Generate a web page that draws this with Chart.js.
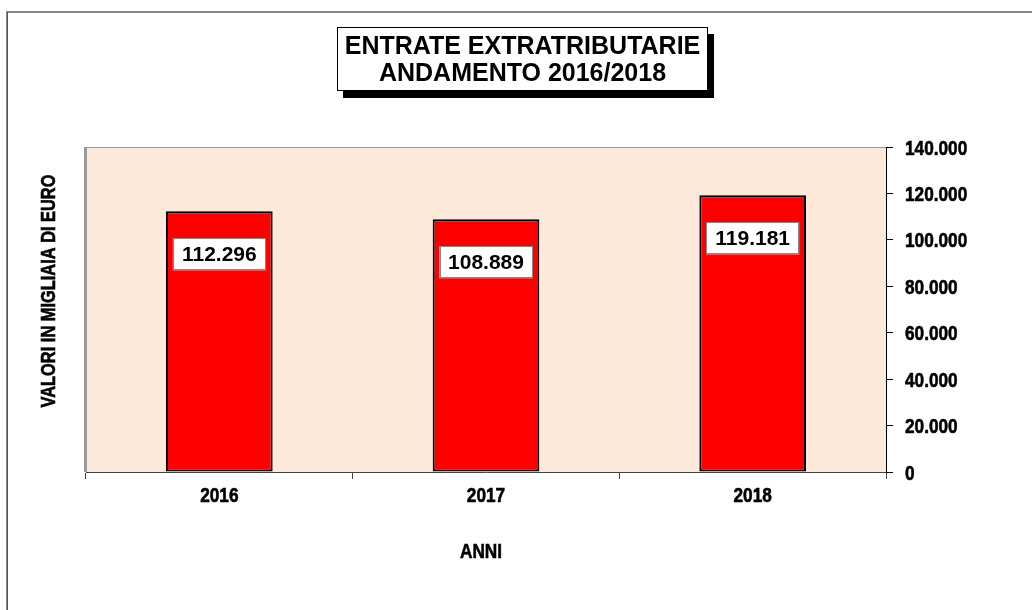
<!DOCTYPE html>
<html>
<head>
<meta charset="utf-8">
<title>Entrate extratributarie</title>
<script src="https://cdn.jsdelivr.net/npm/chart.js@4.4.1/dist/chart.umd.min.js"></script>
<style>
  html, body { margin: 0; padding: 0; background: #fff; }
  canvas { display: block; }
</style>
</head>
<body>
<canvas id="chart" width="1032" height="610"></canvas>
<script>
// ========= dati =========
const anni = ['2016', '2017', '2018'];
const entrate = [112296, 108889, 119181];
const titolo = ['ENTRATE EXTRATRIBUTARIE', 'ANDAMENTO 2016/2018'];
const titoloY = 'VALORI IN MIGLIAIA DI EURO';
const titoloX = 'ANNI';
const yMax = 140000;
const yStep = 20000;

const SANS = "'Liberation Sans', Arial, Helvetica, sans-serif";
const NARROW_SCALE = 0.82; // niente Arial Narrow installato: si comprime a mano

// 140000 -> "140.000"
function fmtMigliaia(v) {
  return String(Math.round(v)).replace(/\B(?=(\d{3})+(?!\d))/g, '.');
}

// testo "narrow" (bold compresso in orizzontale, un filo ripassato)
function narrowText(ctx, txt, x, y, size, align, baseline, rot) {
  ctx.save();
  ctx.translate(x, y);
  if (rot) ctx.rotate(rot);
  ctx.scale(NARROW_SCALE, 1);
  ctx.font = `bold ${size}px ${SANS}`;
  ctx.fillStyle = '#000';
  ctx.strokeStyle = '#000';
  ctx.lineWidth = 0.6;
  ctx.textAlign = align;
  ctx.textBaseline = baseline;
  ctx.fillText(txt, 0, 0);
  ctx.strokeText(txt, 0, 0);
  ctx.restore();
}

// ========= decorazioni (cornice, titolo, etichette) =========
const decor = {
  id: 'decor',
  beforeDraw(chart) {
    const { ctx, chartArea: a } = chart;
    ctx.save();
    // cornice esterna
    ctx.strokeStyle = '#888';
    ctx.lineWidth = 2;
    ctx.beginPath();
    ctx.moveTo(1032, 12); ctx.lineTo(7, 12); ctx.lineTo(7, 610);
    ctx.stroke();
    ctx.strokeStyle = '#555';
    ctx.lineWidth = 1;
    ctx.beginPath();
    ctx.moveTo(7.5, 12); ctx.lineTo(7.5, 610);
    ctx.stroke();

    // sfondo area grafico
    ctx.fillStyle = '#FDE9D9';
    ctx.fillRect(a.left, a.top, a.right - a.left, a.bottom - a.top);
    ctx.strokeStyle = '#999';
    ctx.lineWidth = 1;
    ctx.beginPath();
    ctx.moveTo(a.left, a.top + 0.5); ctx.lineTo(a.right, a.top + 0.5);
    ctx.stroke();
    ctx.lineWidth = 3;
    ctx.beginPath();
    ctx.moveTo(a.left - 0.5, a.top); ctx.lineTo(a.left - 0.5, a.bottom);
    ctx.stroke();

    // box titolo con ombra
    const bx = 337, by = 27, bw = 371, bh = 64;
    ctx.fillStyle = '#000';
    ctx.fillRect(bx + 6, by + 7, bw, bh);
    ctx.fillStyle = '#fff';
    ctx.fillRect(bx, by, bw, bh);
    ctx.strokeStyle = '#000';
    ctx.lineWidth = 1;
    ctx.strokeRect(bx + 0.5, by + 0.5, bw - 1, bh - 1);
    ctx.fillStyle = '#000';
    ctx.font = `bold 25px ${SANS}`;
    ctx.textAlign = 'center';
    ctx.textBaseline = 'alphabetic';
    ctx.fillText(titolo[0], bx + bw / 2, 54);
    ctx.fillText(titolo[1], bx + bw / 2, 81);

    // titoli assi
    narrowText(ctx, titoloX, 481, 552, 21, 'center', 'middle');
    narrowText(ctx, titoloY, 49, 291, 20, 'center', 'middle', -Math.PI / 2);
    ctx.restore();
  },
  afterDatasetsDraw(chart) {
    const { ctx } = chart;
    const meta = chart.getDatasetMeta(0);
    ctx.save();
    ctx.font = `bold 21px ${SANS}`;
    ctx.textAlign = 'center';
    ctx.textBaseline = 'middle';
    meta.data.forEach((bar, i) => {
      const txt = fmtMigliaia(entrate[i]);
      const w = 93, h = 32;
      const cx = bar.x, cy = bar.y + 43;
      ctx.fillStyle = '#fff';
      ctx.fillRect(cx - w / 2, cy - h / 2, w, h);
      ctx.strokeStyle = '#888';
      ctx.lineWidth = 1;
      ctx.strokeRect(Math.round(cx - w / 2) + 0.5, Math.round(cy - h / 2) + 0.5, w - 1, h - 1);
      ctx.fillStyle = '#000';
      ctx.fillText(txt, cx, cy + 1);
    });
    ctx.restore();
  },
  afterDraw(chart) {
    // etichette degli assi, prese dalle scale del grafico
    const { ctx, scales: { x, y } } = chart;
    x.ticks.forEach((t, i) => {
      narrowText(ctx, x.getLabelForValue(t.value), x.getPixelForTick(i), 502, 21, 'center', 'alphabetic');
    });
    y.ticks.forEach((t, i) => {
      narrowText(ctx, fmtMigliaia(t.value), y.left + 19, y.getPixelForTick(i) + 7.5, 21, 'left', 'alphabetic');
    });
  }
};

// ========= grafico =========
new Chart(document.getElementById('chart'), {
  type: 'bar',
  data: {
    labels: anni,
    datasets: [{
      data: entrate,
      backgroundColor: '#FF0000',
      borderColor: '#000',
      borderWidth: 2,
      borderSkipped: false,
      categoryPercentage: 1,
      barPercentage: 0.4
    }]
  },
  options: {
    responsive: false,
    animation: false,
    layout: { padding: { left: 86, top: 147, right: 0, bottom: 0 } },
    plugins: { legend: { display: false }, tooltip: { enabled: false } },
    scales: {
      x: {
        grid: { drawOnChartArea: false, tickLength: 7, color: '#444', offset: true },
        border: { color: '#444', width: 1 },
        ticks: { display: false },
        afterFit(s) { s.height = 138; }
      },
      y: {
        position: 'right',
        min: 0,
        max: yMax,
        grid: { drawOnChartArea: false, tickLength: 7, color: '#000' },
        border: { color: '#000', width: 1 },
        ticks: { display: false, stepSize: yStep },
        afterFit(s) { s.width = 146; }
      }
    }
  },
  plugins: [decor]
});
</script>
</body>
</html>
